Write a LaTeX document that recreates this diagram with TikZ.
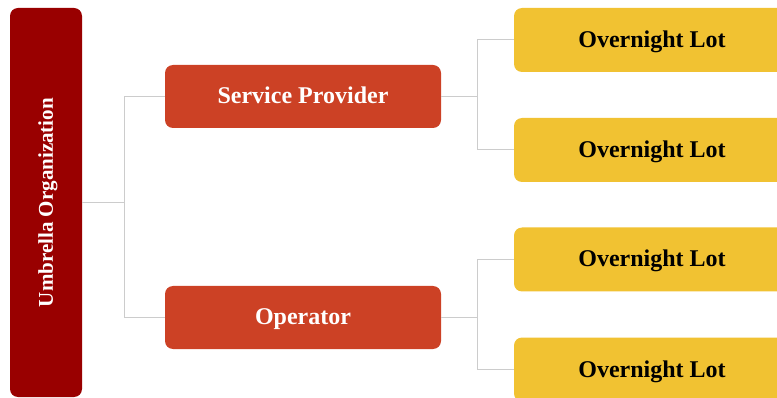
\documentclass[tikz,border=0pt]{standalone}
\usepackage{fontspec}
\setmainfont{Liberation Serif}
\usetikzlibrary{calc,positioning}

\definecolor{umbred}{HTML}{990000}
\definecolor{midred}{HTML}{CC4125}
\definecolor{lotyellow}{HTML}{F1C232}
\definecolor{linkgray}{HTML}{CCCCCC}

\tikzset{
  box/.style={rounded corners=8pt, minimum width=276pt, minimum height=63pt,
    inner sep=0pt, text height=15pt, text depth=0pt,
    font=\fontsize{24}{27}\selectfont\bfseries},
  umbbox/.style={box, fill=umbred, text=white, minimum width=389pt, minimum height=72pt,
    text height=13.5pt, font=\fontsize{21}{24}\selectfont\bfseries},
  midbox/.style={box, fill=midred, text=white},
  lotbox/.style={box, fill=lotyellow, text=black, minimum height=64pt},
  link/.style={draw=linkgray, line width=1pt}
}

\begin{document}
\begin{tikzpicture}[x=1pt, y=-1pt]
\clip[use as bounding box] (0,0) rectangle (777,398);

% left column
\node[umbbox, rotate=90] (umb) at (46,202.5) {Umbrella Organization};

% middle column
\node[midbox] (prov) at (303,96.5) {Service Provider};
\node[midbox] (oper) at (303,317.5) {Operator};

% right column
\node[lotbox] (lot1) at (652,40) {Overnight Lot};
\node[lotbox] (lot2) at (652,150) {Overnight Lot};
\node[lotbox] (lot3) at (652,259.5) {Overnight Lot};
\node[lotbox] (lot4) at (652,369.5) {Overnight Lot};

% joints
\coordinate (jumb) at (124,202.5);
\coordinate (jprov) at (477,96.5);
\coordinate (joper) at (477,317.5);

\draw[link] (umb.south) -- (jumb);
\draw[link] (jumb) |- (prov.west);
\draw[link] (jumb) |- (oper.west);

\draw[link] (prov.east) -- (jprov);
\draw[link] (jprov) |- (lot1.west);
\draw[link] (jprov) |- (lot2.west);

\draw[link] (oper.east) -- (joper);
\draw[link] (joper) |- (lot3.west);
\draw[link] (joper) |- (lot4.west);
\end{tikzpicture}
\end{document}
